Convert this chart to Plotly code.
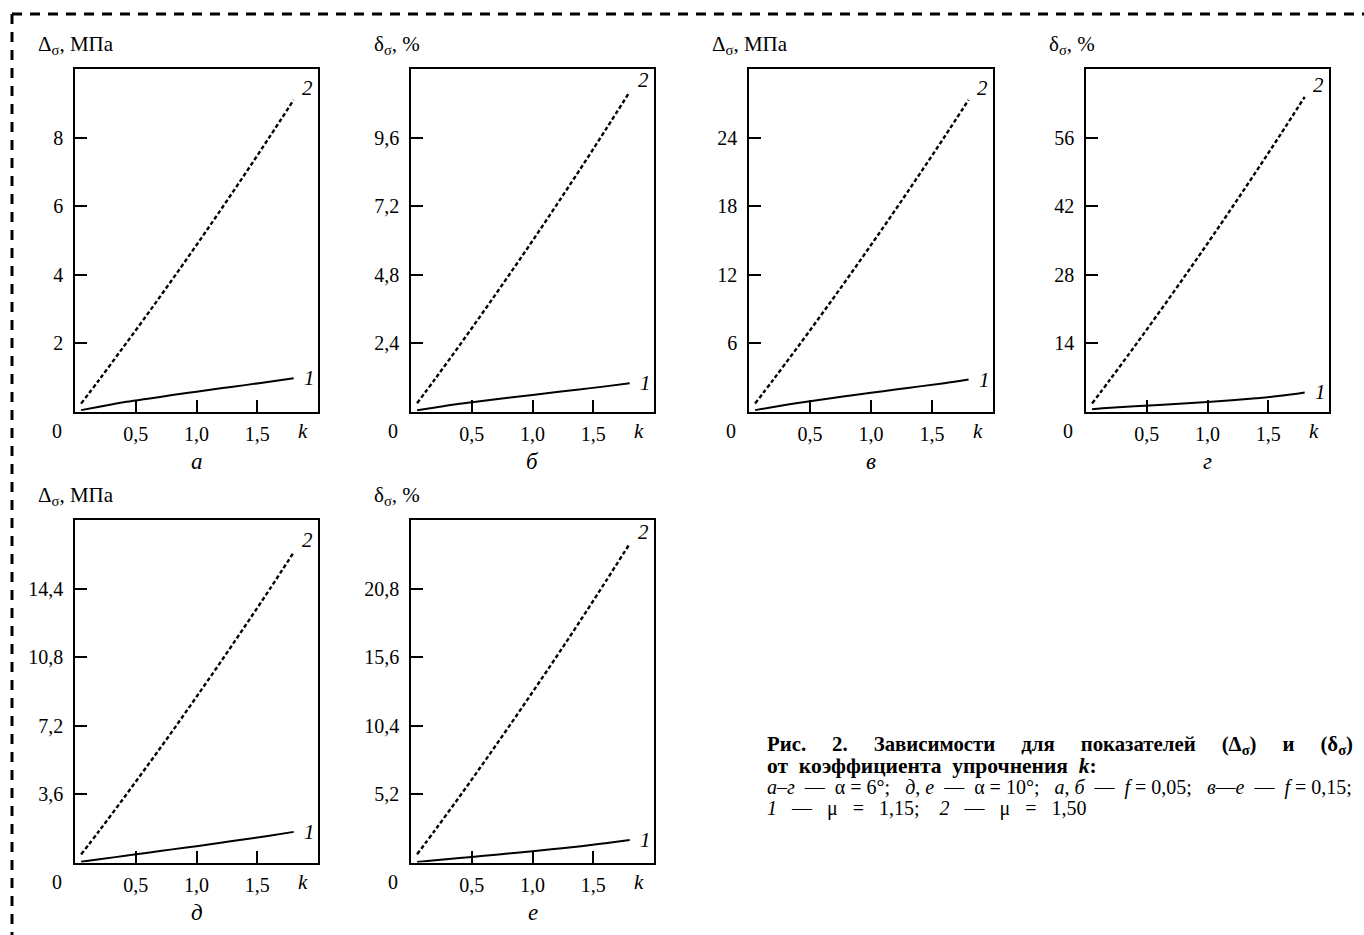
import plotly.graph_objects as go

# Hardening coefficient grid shared by all panels
k_values = [0.05, 0.2, 0.4, 0.6, 0.8, 1.0, 1.2, 1.4, 1.6, 1.8]

# Panel letters
panel_letters = ["а", "б", "в", "г", "д", "е"]

# Y-axis titles
y_titles = ["Δ<sub>σ</sub>, МПа", "δ<sub>σ</sub>, %", "Δ<sub>σ</sub>, МПа",
            "δ<sub>σ</sub>, %", "Δ<sub>σ</sub>, МПа", "δ<sub>σ</sub>, %"]

# Curve 1 (μ = 1,15)
mu115_a = [0.04, 0.14, 0.27, 0.37, 0.48, 0.58, 0.68, 0.77, 0.87, 0.97]
mu115_b = [0.04, 0.14, 0.27, 0.38, 0.48, 0.58, 0.68, 0.78, 0.88, 0.99]
mu115_v = [0.12, 0.40, 0.75, 1.06, 1.36, 1.64, 1.92, 2.20, 2.48, 2.80]
mu115_g = [0.45, 0.75, 1.05, 1.35, 1.65, 1.95, 2.30, 2.70, 3.20, 3.90]
mu115_d = [0.04, 0.17, 0.34, 0.51, 0.69, 0.86, 1.04, 1.22, 1.41, 1.61]
mu115_e = [0.04, 0.17, 0.34, 0.51, 0.68, 0.85, 1.04, 1.24, 1.47, 1.71]

# Curve 2 (μ = 1,50)
mu150_a = [0.23, 0.93, 1.89, 2.86, 3.85, 4.86, 5.89, 6.94, 8.01, 9.10]
mu150_b = [0.29, 1.15, 2.32, 3.52, 4.74, 5.98, 7.25, 8.54, 9.86, 11.20]
mu150_v = [0.70, 2.80, 5.66, 8.58, 11.55, 14.58, 17.67, 20.82, 24.02, 27.30]
mu150_g = [1.64, 6.59, 13.32, 20.20, 27.20, 34.34, 41.62, 49.04, 56.58, 64.30]
mu150_d = [0.42, 1.67, 3.38, 5.12, 6.89, 8.71, 10.55, 12.43, 14.34, 16.30]
mu150_e = [0.62, 2.48, 5.01, 7.60, 10.24, 12.93, 15.66, 18.45, 21.30, 24.20]

curve1 = [mu115_a, mu115_b, mu115_v, mu115_g, mu115_d, mu115_e]
curve2 = [mu150_a, mu150_b, mu150_v, mu150_g, mu150_d, mu150_e]

# Y-axis ranges and ticks
y_max = [10, 12, 30, 70, 18, 26]
y_ticks = [[2, 4, 6, 8], [2.4, 4.8, 7.2, 9.6], [6, 12, 18, 24],
           [14, 28, 42, 56], [3.6, 7.2, 10.8, 14.4], [5.2, 10.4, 15.6, 20.8]]
y_tick_text = [["2", "4", "6", "8"], ["2,4", "4,8", "7,2", "9,6"],
               ["6", "12", "18", "24"], ["14", "28", "42", "56"],
               ["3,6", "7,2", "10,8", "14,4"], ["5,2", "10,4", "15,6", "20,8"]]
x_ticks = [0.5, 1.0, 1.5]
x_tick_text = ["0,5", "1,0", "1,5"]

W, H = 1364, 935
FONT = "Liberation Serif"

# Pixel boxes of the panels: left, right, top, bottom
boxes = [(75, 318, 69, 411.5), (411, 654, 69, 411.5), (749, 993, 69, 411.5),
         (1086, 1329, 69, 411.5), (75, 318, 520, 862.5), (411, 654, 520, 862.5)]


def px_x(x):
    return x / W


def px_y(y):
    return 1 - y / H


fig = go.Figure()
layout = dict(
    width=W, height=H, margin=dict(l=0, r=0, t=0, b=0),
    paper_bgcolor="white", plot_bgcolor="white", showlegend=False,
    font=dict(family=FONT, size=20, color="black"),
)
annotations = []
shapes = []

for i in range(6):
    n = "" if i == 0 else str(i + 1)
    xa, ya = "x" + n, "y" + n
    left, right, top, bottom = boxes[i]

    fig.add_trace(go.Scatter(
        x=k_values, y=curve1[i], xaxis=xa, yaxis=ya, mode="lines",
        line=dict(color="black", width=2, shape="spline"), hoverinfo="skip"))
    fig.add_trace(go.Scatter(
        x=k_values, y=curve2[i], xaxis=xa, yaxis=ya, mode="lines",
        line=dict(color="black", width=2.4, dash="4px,2.5px", shape="spline"),
        hoverinfo="skip"))

    axis_common = dict(
        showline=True, mirror=True, linecolor="black", linewidth=1.6,
        showgrid=False, zeroline=False, ticks="inside", ticklen=12,
        tickwidth=1.5, tickcolor="black",
        tickfont=dict(family=FONT, size=20, color="black"),
    )
    layout["xaxis" + n] = dict(
        axis_common, domain=[px_x(left), px_x(right)], range=[0, 2],
        tickvals=x_ticks, ticktext=x_tick_text, anchor=ya,
        ticklabelstandoff=4)
    layout["yaxis" + n] = dict(
        axis_common, domain=[px_y(bottom), px_y(top)], range=[0, y_max[i]],
        tickvals=y_ticks[i], ticktext=y_tick_text[i], anchor=xa,
        ticklabelstandoff=6)

    # origin "0" and axis name "k"
    annotations.append(dict(
        xref="paper", yref="paper", x=px_x(left - 18), y=px_y(bottom + 19),
        text="0", showarrow=False, xanchor="center", yanchor="middle",
        font=dict(family=FONT, size=20)))
    annotations.append(dict(
        xref=xa, yref="paper", x=1.88, y=px_y(bottom + 19),
        text="<i>k</i>", showarrow=False, xanchor="center", yanchor="middle",
        font=dict(family=FONT, size=21)))
    # panel letter
    annotations.append(dict(
        xref="paper", yref="paper", x=px_x((left + right) / 2),
        y=px_y(bottom + 50), text="<i>" + panel_letters[i] + "</i>",
        showarrow=False, xanchor="center", yanchor="middle",
        font=dict(family=FONT, size=23)))
    # y-axis title
    annotations.append(dict(
        xref="paper", yref="paper", x=px_x(left - 39), y=px_y(top - 24),
        text=y_titles[i], showarrow=False, xanchor="left", yanchor="middle",
        font=dict(family=FONT, size=21)))
    # curve numbers
    annotations.append(dict(
        xref=xa, yref=ya, x=k_values[-1], y=curve2[i][-1],
        text="<i>2</i>", showarrow=False, xanchor="left", yanchor="bottom",
        xshift=6, yshift=-2, font=dict(family=FONT, size=21)))
    annotations.append(dict(
        xref=xa, yref=ya, x=k_values[-1], y=curve1[i][-1],
        text="<i>1</i>", showarrow=False, xanchor="left", yanchor="middle",
        xshift=8, font=dict(family=FONT, size=21)))

# Figure caption
cap_x = px_x(765)
sp = "     "
caption = [
    ("<b>Рис." + sp + "2." + sp + "Зависимости" + sp + "для" + sp + "показателей"
     + sp + "(Δ<sub>σ</sub>)" + sp + "и" + sp + "(δ<sub>σ</sub>)</b>", 745, 20.8),
    ("<b>от  коэффициента  упрочнения  <i>k</i>:</b>", 766, 21.5),
    ("<i>а</i>–<i>г</i>  —  α = 6°;   <i>д</i>, <i>е</i>  —  α = 10°;   "
     "<i>а</i>, <i>б</i>  —  <i>f</i> = 0,05;   <i>в</i>—<i>е</i>  —  <i>f</i> = 0,15;", 787, 20),
    ("<i>1</i>   —   μ   =   1,15;    <i>2</i>   —   μ   =   1,50", 808, 20),
]
for text, y, size in caption:
    annotations.append(dict(
        xref="paper", yref="paper", x=cap_x, y=px_y(y), text=text,
        showarrow=False, xanchor="left", yanchor="middle",
        font=dict(family=FONT, size=size)))

# Dashed frame along the top and left edges
shapes.append(dict(type="line", xref="paper", yref="paper",
                   x0=px_x(12), x1=1.0, y0=px_y(14), y1=px_y(14),
                   line=dict(color="black", width=3, dash="10px,8px")))
shapes.append(dict(type="line", xref="paper", yref="paper",
                   x0=px_x(12), x1=px_x(12), y0=px_y(14), y1=0.0,
                   line=dict(color="black", width=3, dash="10px,8px")))

layout["annotations"] = annotations
layout["shapes"] = shapes
fig.update_layout(**layout)
fig.write_html("out.html")
